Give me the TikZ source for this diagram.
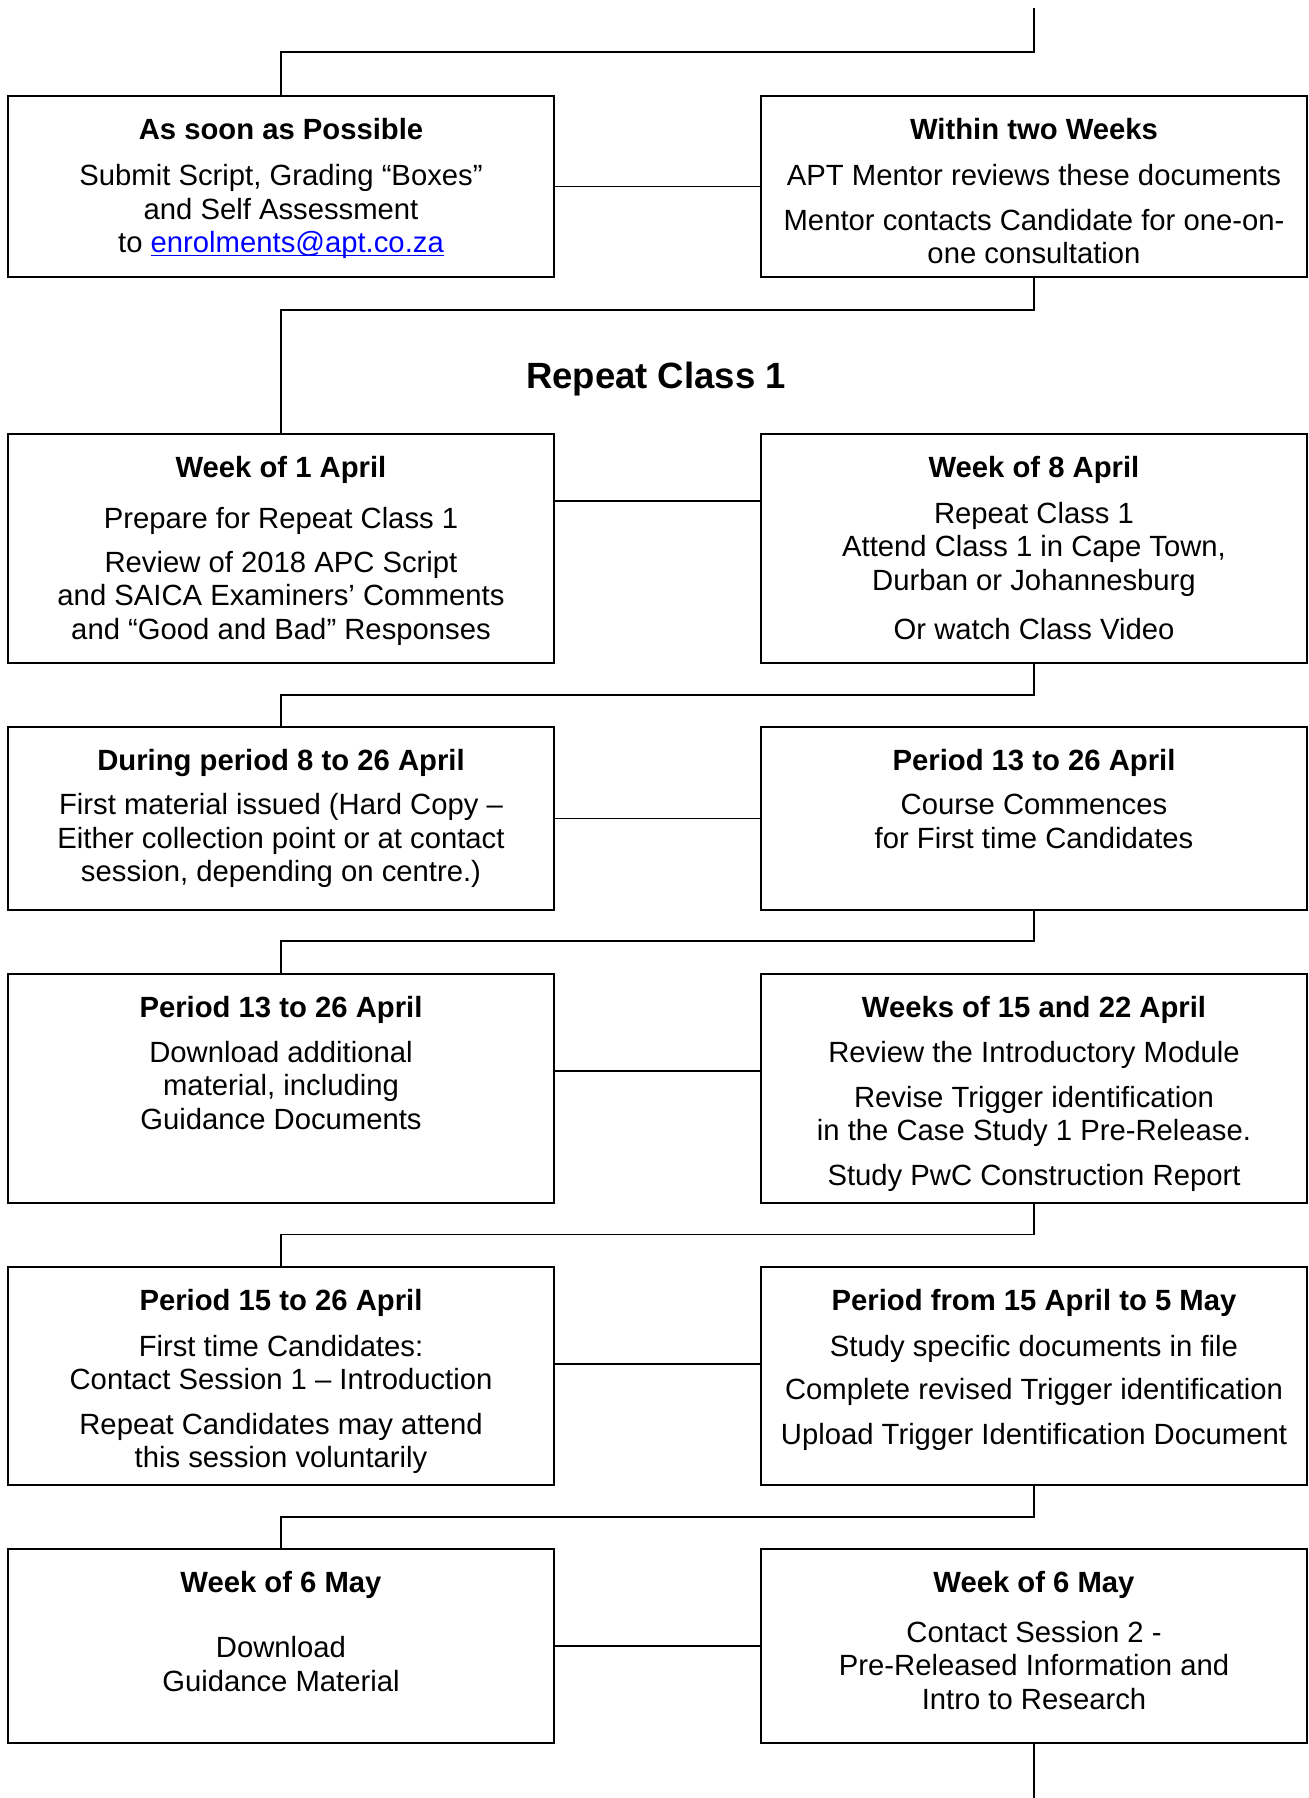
\documentclass[tikz,border=0pt]{standalone}
\usepackage{fontspec}
\setmainfont{Liberation Sans}
\usetikzlibrary{positioning,calc}
\definecolor{linkblue}{HTML}{0000FF}
\newcommand{\mailline}[1]{\setbox0\hbox{#1}\rlap{\rule[-1.5pt]{\wd0}{0.7pt}}\box0}

\begin{document}
\begin{tikzpicture}[
  x=1pt, y=-1pt,
  every node/.style={font=\fontsize{11.7}{13.4}\selectfont},
  stage/.style={rectangle, draw, line width=0.8pt, minimum width=218.4pt, inner sep=0pt, outer sep=0pt},
  stagetext/.style={anchor=north, align=center, inner sep=0pt, yshift=-8.8pt},
  link/.style={line width=0.7pt},
]
\useasboundingbox (0,0) rectangle (523.2,719.2);

% Row 1
\node[stage, minimum height=72.5pt, anchor=north west] at (3.2,38.4) (asap) {};
\node[stagetext] at (asap.north) (asaptext) {
  \textbf{As soon as Possible}\\[5pt]
  Submit Script, Grading “Boxes”\\
  and Self Assessment\\
  to {\color{linkblue}\mailline{enrolments@apt.co.za}}
};
\node[stage, minimum height=72.5pt, right=82.8pt of asap] (twoweeks) {};
\node[stagetext] at (twoweeks.north) (twoweekstext) {
  \textbf{Within two Weeks}\\[5pt]
  APT Mentor reviews these documents\\[4.5pt]
  Mentor contacts Candidate for one-on-\\
  one consultation
};

% Title
\node[font=\fontsize{14.6}{17}\selectfont\bfseries, anchor=base] at (262.4,155.6) (repeat) {Repeat Class 1};

% Row 2
\node[stage, minimum height=91.5pt, below=62.7pt of asap] (apr1) {};
\node[stagetext] at (apr1.north) (apr1text) {
  \textbf{Week of 1 April}\\[6.9pt]
  Prepare for Repeat Class 1\\[4.1pt]
  Review of 2018 APC Script\\
  and SAICA Examiners' Comments\\
  and “Good and Bad” Responses
};
\node[stage, minimum height=91.5pt, right=82.8pt of apr1] (apr8) {};
\node[stagetext] at (apr8.north) (apr8text) {
  \textbf{Week of 8 April}\\[4.9pt]
  Repeat Class 1\\
  Attend Class 1 in Cape Town,\\
  Durban or Johannesburg\\[6.3pt]
  Or watch Class Video
};

% Row 3
\node[stage, minimum height=73.3pt, below=25.6pt of apr1] (during) {};
\node[stagetext] at (during.north) (duringtext) {
  \textbf{During period 8 to 26 April}\\[4.3pt]
  First material issued (Hard Copy --\\
  Either collection point or at contact\\
  session, depending on centre.)
};
\node[stage, minimum height=73.3pt, right=82.8pt of during] (commence) {};
\node[stagetext] at (commence.north) (commencetext) {
  \textbf{Period 13 to 26 April}\\[4.3pt]
  Course Commences\\
  for First time Candidates
};

% Row 4
\node[stage, minimum height=91.6pt, below=25.6pt of during] (download) {};
\node[stagetext] at (download.north) (downloadtext) {
  \textbf{Period 13 to 26 April}\\[4.4pt]
  Download additional\\
  material, including\\
  Guidance Documents
};
\node[stage, minimum height=91.6pt, right=82.8pt of download] (weeks) {};
\node[stagetext] at (weeks.north) (weekstext) {
  \textbf{Weeks of 15 and 22 April}\\[4.4pt]
  Review the Introductory Module\\[4.7pt]
  Revise Trigger identification\\
  in the Case Study 1 Pre-Release.\\[4.5pt]
  Study PwC Construction Report
};

% Row 5
\node[stage, minimum height=87.1pt, below=25.6pt of download] (contact1) {};
\node[stagetext] at (contact1.north) (contact1text) {
  \textbf{Period 15 to 26 April}\\[4.8pt]
  First time Candidates:\\
  Contact Session 1 -- Introduction\\[4.5pt]
  Repeat Candidates may attend\\
  this session voluntarily
};
\node[stage, minimum height=87.1pt, right=82.8pt of contact1] (fromapr) {};
\node[stagetext] at (fromapr.north) (fromaprtext) {
  \textbf{Period from 15 April to 5 May}\\[4.8pt]
  Study specific documents in file\\[4.1pt]
  Complete revised Trigger identification\\[4.4pt]
  Upload Trigger Identification Document
};

% Row 6
\node[stage, minimum height=77.5pt, below=25.8pt of contact1] (maydl) {};
\node[stagetext] at (maydl.north) (maydltext) {
  \textbf{Week of 6 May}\\[12.6pt]
  Download\\
  Guidance Material
};
\node[stage, minimum height=77.5pt, right=82.8pt of maydl] (maycs) {};
\node[stagetext] at (maycs.north) (maycstext) {
  \textbf{Week of 6 May}\\[6.4pt]
  Contact Session 2 -\\
  Pre-Released Information and\\
  Intro to Research
};

% connectors
\coordinate (top) at (twoweeks.north |- 0,3.2);
\coordinate (bottom) at (maycs.south |- 0,719.2);
\draw[link] (top) -- ++(0,17.5) -| (asap.north);
\draw[link] (twoweeks.south) -- ++(0,13) -| (apr1.north);
\draw[link] (apr8.south) -- ++(0,13) -| (during.north);
\draw[link] (commence.south) -- ++(0,12.5) -| (download.north);
\draw[link] (weeks.south) -- ++(0,12.6) -| (contact1.north);
\draw[link] (fromapr.south) -- ++(0,12.9) -| (maydl.north);
\draw[link] (maycs.south) -- (bottom);

\draw[link] (asap.east) -- (twoweeks.west);
\draw[link] ([yshift=19pt]apr1.east) -- ([yshift=19pt]apr8.west);
\draw[link] (during.east) -- (commence.west);
\draw[link] ([yshift=7.1pt]download.east) -- ([yshift=7.1pt]weeks.west);
\draw[link] ([yshift=4.7pt]contact1.east) -- ([yshift=4.7pt]fromapr.west);
\draw[link] (maydl.east) -- (maycs.west);

\end{tikzpicture}
\end{document}
